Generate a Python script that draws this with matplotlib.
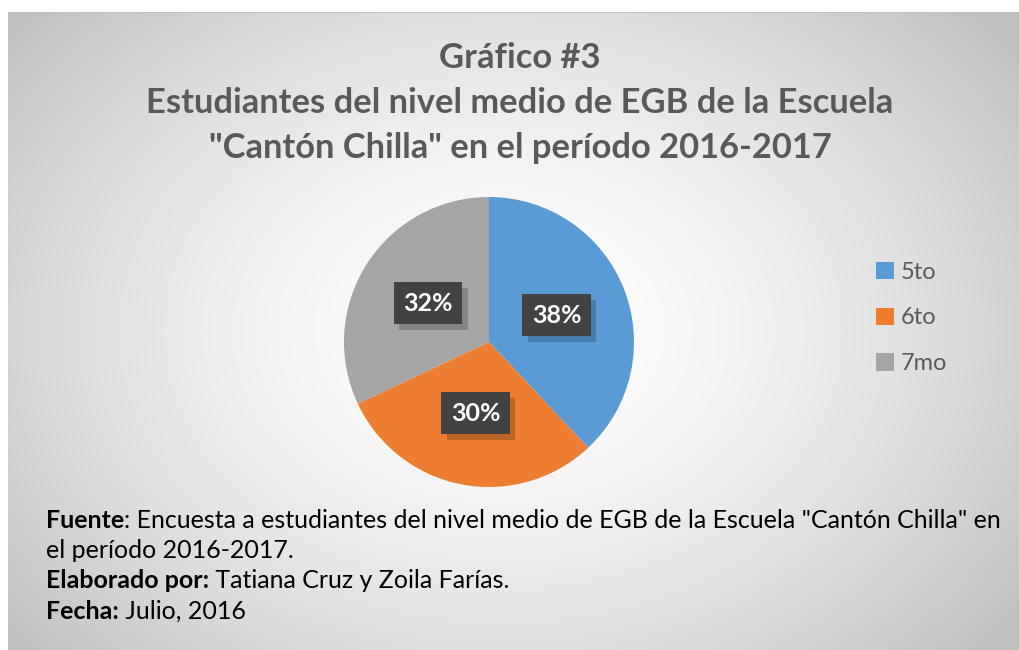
import numpy as np
import matplotlib.pyplot as plt
import matplotlib.patheffects as pe
from matplotlib.patches import Patch

plt.rcParams['font.family'] = ['Lato', 'DejaVu Sans']

# data
grados   = [ '5to', '6to', '7mo' ]
valores  = [ 38, 30, 32 ]
colores  = [ '#5B9BD5', '#ED7D31', '#A5A5A5' ]

titulos = [ 'Gráfico #3',
            'Estudiantes del nivel medio de EGB de la Escuela',
            '"Cantón Chilla" en el período 2016-2017' ]

notas = [ ( 'Fuente', ': Encuesta a estudiantes del nivel medio de EGB de la Escuela "Cantón Chilla" en' ),
          ( '', 'el período 2016-2017.' ),
          ( 'Elaborado por:', ' Tatiana Cruz y Zoila Farías.' ),
          ( 'Fecha:', ' Julio, 2016' ) ]

W, H = 1019, 650
fig = plt.figure( figsize = ( W / 100, H / 100 ), dpi = 100 )
fig.patch.set_facecolor( 'white' )

# background with radial gradient
bg = fig.add_axes( [ 8 / W, 0, 1 - 8 / W, 1 - 12 / H ] )
nx, ny = 400, 260
xx, yy = np.meshgrid( np.linspace( 0, 1, nx ), np.linspace( 0, 1, ny ) )
d = np.sqrt( ( ( xx - 0.49 ) / 0.62 ) ** 2 + ( ( yy - 0.50 ) / 0.75 ) ** 2 )
d = np.clip( d, 0, 1 )
val = 1.0 - 0.24 * d ** 1.6
bg.imshow( np.dstack( [ val, val, val ] ), extent = [ 0, 1, 0, 1 ],
           aspect = 'auto', origin = 'upper', interpolation = 'bilinear' )
bg.set_xlim( 0, 1 )
bg.set_ylim( 0, 1 )
bg.axis( 'off' )
bg.plot( [ 0, 1 ], [ 1, 1 ], color = '#bfbfbf', lw = 1.5 )

# title
for i, t in enumerate( titulos ):
    fig.text( 520 / W, 1 - ( 58 + 45 * i ) / H, t, ha = 'center', va = 'center',
              fontsize = 24.8, fontweight = 'bold', color = '#595959' )

# pie
cx, cy, r = 489, 342, 145
ax = fig.add_axes( [ ( cx - r ) / W, 1 - ( cy + r ) / H, 2 * r / W, 2 * r / H ] )
wedges, texts, autotexts = ax.pie( valores, colors = colores, startangle = 90,
                                   counterclock = False, radius = 1.0,
                                   autopct = lambda p: '{:.0f}%'.format( p ),
                                   pctdistance = 0.5,
                                   wedgeprops = dict( linewidth = 0 ) )
ax.set_xlim( -1, 1 )
ax.set_ylim( -1, 1 )
ax.set_aspect( 'equal' )

for t in autotexts:
    t.set_fontsize( 18 )
    t.set_fontweight( 'bold' )
    t.set_color( 'white' )
    t.set_zorder( 5 )
    t.set_bbox( dict( boxstyle = 'square,pad=0.38', facecolor = '#424242',
                      linewidth = 0 ) )
    t.get_bbox_patch().set_path_effects(
        [ pe.SimplePatchShadow( offset = ( 4, -4 ), shadow_rgbFace = 'black', alpha = 0.2 ),
          pe.Normal() ] )

# legend
handles = [ Patch( facecolor = c, edgecolor = 'none' ) for c in colores ]
fig.legend( handles, grados, loc = 'center left',
            bbox_to_anchor = ( 855 / W, 1 - 318 / H ), frameon = False,
            fontsize = 17, labelcolor = '#595959', handlelength = 0.75,
            handleheight = 0.75, handletextpad = 0.3, labelspacing = 1.05 )

# footer notes
y0 = 520
for i, ( b, n ) in enumerate( notas ):
    y = 1 - ( y0 + i * 30.5 ) / H
    tb = fig.text( 46 / W, y, b, ha = 'left', va = 'center', fontsize = 18,
                   fontweight = 'bold', color = 'black' )
    ax.annotate( n, xy = ( 1, 0.5 ), xycoords = tb, ha = 'left', va = 'center',
                 fontsize = 18, color = 'black', annotation_clip = False )

fig.savefig( 'out.png', dpi = 100 )
